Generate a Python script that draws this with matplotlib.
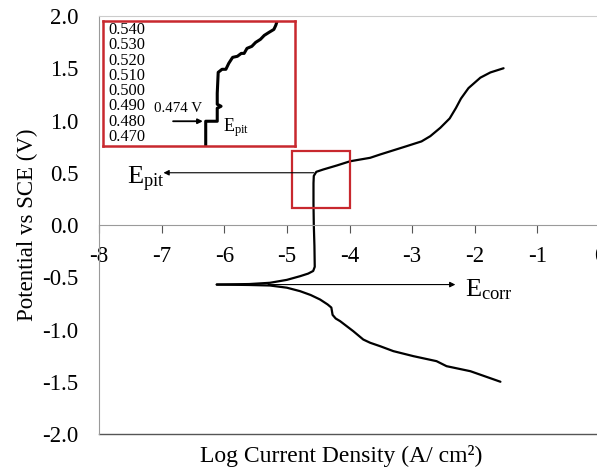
import numpy as np
import matplotlib
matplotlib.use("Agg")
import matplotlib.pyplot as plt
from matplotlib.patches import Rectangle

plt.rcParams['font.family'] = ['Liberation Serif', 'DejaVu Serif']
plt.rcParams['mathtext.fontset'] = 'custom'
plt.rcParams['mathtext.rm'] = 'Liberation Serif'
plt.rcParams['mathtext.it'] = 'Liberation Serif'

# anodic branch (log i, E)
anodic_x = [-6.12, -5.6, -5.27, -5.0, -4.79, -4.66, -4.58, -4.555, -4.56, -4.57,
            -4.575, -4.575, -4.57, -4.53, -4.42, -4.2, -3.99, -3.67, -3.51, -3.09,
            -2.85, -2.71, -2.55, -2.40, -2.30, -2.22, -2.10, -1.91, -1.75, -1.54]
anodic_y = [-0.57, -0.565, -0.553, -0.525, -0.49, -0.465, -0.44, -0.40, -0.2, 0.0,
            0.2, 0.4, 0.47, 0.509, 0.531, 0.57, 0.61, 0.643, 0.675, 0.754,
            0.80, 0.85, 0.93, 1.02, 1.12, 1.21, 1.31, 1.41, 1.46, 1.50]

# cathodic branch
cathodic_x = [-6.12, -5.6, -5.27, -5.0, -4.79, -4.62, -4.47, -4.35, -4.29, -4.27,
              -4.22, -4.15, -3.94, -3.78, -3.67, -3.51, -3.30, -2.98, -2.61, -2.45,
              -2.07, -1.59]
cathodic_y = [-0.57, -0.574, -0.579, -0.60, -0.633, -0.67, -0.713, -0.76, -0.79, -0.86,
              -0.895, -0.92, -1.016, -1.096, -1.127, -1.16, -1.207, -1.255, -1.303, -1.351,
              -1.399, -1.50]

# zoomed pitting region (inset)
zoom_x = [-4.513, -4.513, -4.501, -4.501, -4.497, -4.501, -4.501, -4.500, -4.496, -4.492,
          -4.489, -4.485, -4.480, -4.476, -4.473, -4.470, -4.465, -4.461, -4.456, -4.452,
          -4.447, -4.442, -4.440, -4.438]
zoom_y = [0.460, 0.4803, 0.4803, 0.4888, 0.4901, 0.4914, 0.4986, 0.5123, 0.5143, 0.5143,
          0.5182, 0.5221, 0.5228, 0.5247, 0.5247, 0.5280, 0.5293, 0.5319, 0.5339, 0.5365,
          0.5385, 0.5404, 0.5431, 0.5470]
zoom_labels = [0.470, 0.480, 0.490, 0.500, 0.510, 0.520, 0.530, 0.540]

e_corr = -0.57
e_pit = 0.50

W, H = 597, 473
fig = plt.figure(figsize=(W / 100, H / 100), dpi=100)
ax = fig.add_axes([99 / W, 1 - 434 / H, 501 / W, 418 / H])

ax.plot(anodic_x, anodic_y, color='black', lw=1.6, solid_capstyle='round')
ax.plot(cathodic_x, cathodic_y, color='black', lw=1.6, solid_capstyle='round')
ax.set_xlim(-8, 0)
ax.set_ylim(-2, 2)

ax.spines['bottom'].set_position(('data', 0))
ax.spines['bottom'].set_color('#9a9a9a')
ax.spines['left'].set_color('#9a9a9a')
ax.spines['top'].set_color('#cccccc')
ax.spines['right'].set_visible(False)
ax.axhline(-2, color='#555555', lw=1.0, clip_on=False)

ax.set_xticks(range(-8, 1))
ax.set_xticklabels([str(v) for v in range(-8, 1)])
ax.set_yticks(np.arange(-2, 2.01, 0.5))
ax.set_yticklabels(['%.1f' % v for v in np.arange(-2, 2.01, 0.5)])
ax.tick_params(axis='x', direction='out', length=6, width=0.8, color='#555555',
               labelsize=16.5, pad=9)
ax.tick_params(axis='y', length=0, labelsize=16.5, pad=15)

ax.set_ylabel('Potential vs SCE (V)', fontsize=16.5, labelpad=3)
fig.text(341 / W, 1 - 456 / H, 'Log Current Density (A/ cm²)', fontsize=17,
         ha='center', va='center')

# red box around pitting region
ax.add_patch(Rectangle((-4.92, 0.16), 0.93, 0.55, fill=False,
                       edgecolor='#c8282e', lw=1.6, zorder=3))

# arrows
ax.annotate('', xy=(-6.97, e_pit), xytext=(-4.57, e_pit),
            arrowprops=dict(arrowstyle='-|>', color='black', lw=0.8,
                            mutation_scale=8, shrinkA=0, shrinkB=0))
ax.text(-7.55, 0.39, r'E$_{\mathregular{pit}}$', fontsize=19,
        ha='left', va='baseline')
ax.annotate('', xy=(-2.31, e_corr), xytext=(-5.3, e_corr),
            arrowprops=dict(arrowstyle='-|>', color='black', lw=0.8,
                            mutation_scale=8, shrinkA=0, shrinkB=0))
ax.text(-2.16, -0.685, r'E$_{\mathregular{corr}}$', fontsize=19,
        ha='left', va='baseline')

# inset
ins = fig.add_axes([103 / W, 1 - 146 / H, 192 / W, 125 / H])
ins.plot(zoom_x, zoom_y, color='black', lw=2.2)
ins.set_xlim(-4.62, -4.42)
ins.set_ylim(0.4641, 0.5459)
ins.set_xticks([])
ins.set_yticks([])
for s in ins.spines.values():
    s.set_color('#c8282e')
    s.set_linewidth(1.8)
for v in zoom_labels:
    ins.text(0.026, v, '%.3f' % v, transform=ins.get_yaxis_transform(),
             fontsize=11.8, ha='left', va='center')
ins.text(-4.567, 0.4888, '0.474 V', fontsize=10.8, ha='left', va='center')
ins.annotate('', xy=(-4.516, 0.4803), xytext=(-4.547, 0.4803),
             arrowprops=dict(arrowstyle='-|>', color='black', lw=1.3,
                             mutation_scale=7, shrinkA=0, shrinkB=0))
ins.text(-4.495, 0.4765, r'E$_{\mathregular{pit}}$', fontsize=13,
         ha='left', va='center')

fig.savefig('out.png', dpi=100)
